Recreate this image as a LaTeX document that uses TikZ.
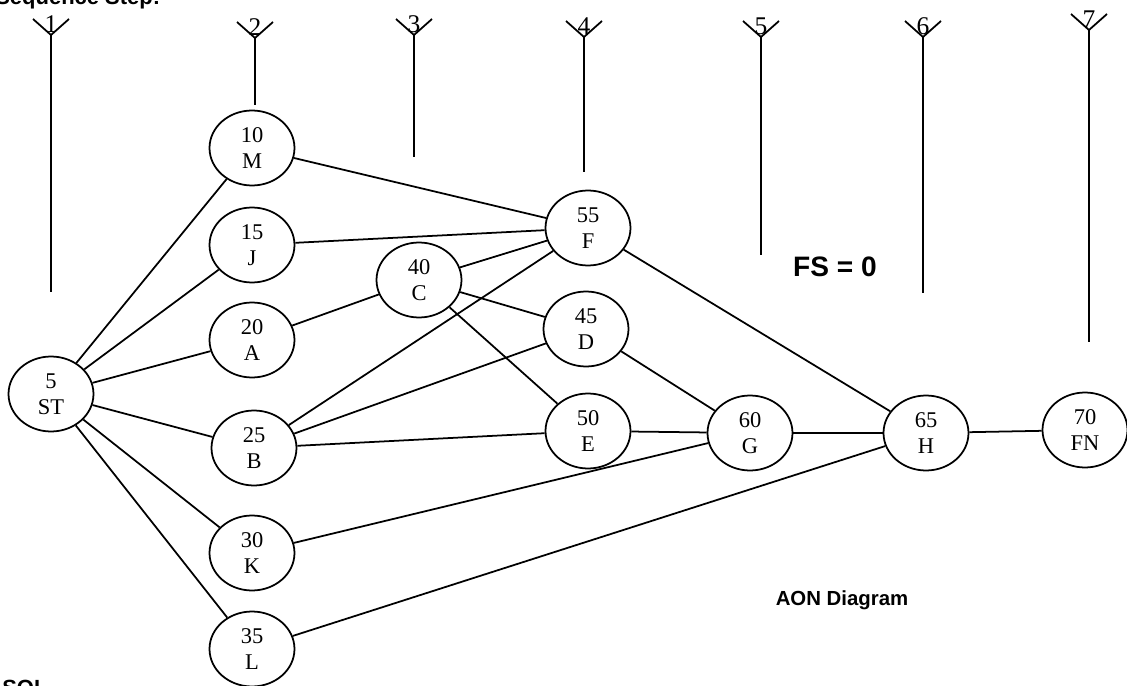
\documentclass[tikz,border=0pt]{standalone}
\usepackage{fontspec}
\setmainfont{Liberation Serif}
\setsansfont{Liberation Sans}
\usetikzlibrary{shapes.geometric,positioning}

\begin{document}
\begin{tikzpicture}[
  x=0.02cm, y=-0.02cm,
  act/.style={draw, ellipse, line width=1pt, minimum width=1.7cm,
              minimum height=1.5cm, inner sep=0pt, align=center,
              font=\fontsize{12.8}{14.6}\selectfont},
  link/.style={line width=1pt},
  stepline/.style={line width=1pt},
  note/.style={inner sep=0pt, font=\sffamily\bfseries\fontsize{11.6}{14}\selectfont}
]
\useasboundingbox (0,0) rectangle (1127,686);
\clip (0,0) rectangle (1127,686);
% sequence steps
\foreach \n/\x/\y/\b in {1/51/35/292, 2/255/38/105, 3/414/35/157, 4/584/37/172,
                         5/761/37/255, 6/923/37/293, 7/1089/30/342} {
  \draw[stepline] (\x-18,\y-16) -- (\x,\y) -- (\x+18,\y-16);
  \draw[stepline] (\x,\y) -- (\x,\b);
  \node[anchor=south, inner sep=0pt, font=\fontsize{14.5}{17}\selectfont] (s\n) at (\x,\y-2) {\n};
}
% activities
\node[act] (st) at (51,394) {5\\ST};
\node[act] (m) at (252,148) {10\\M};
\node[act] (j) at (252,245) {15\\J};
\node[act] (a) at (252,340) {20\\A};
\node[act] (b) at (254,448) {25\\B};
\node[act] (k) at (252,553) {30\\K};
\node[act] (l) at (252,649) {35\\L};
\node[act] (c) at (419,280) {40\\C};
\node[act] (d) at (586,329) {45\\D};
\node[act] (e) at (588,431) {50\\E};
\node[act] (f) at (588,228) {55\\F};
\node[act] (g) at (750,433) {60\\G};
\node[act] (h) at (926,433) {65\\H};
\node[act] (fn) at (1085,430) {70\\FN};
% precedence links
\foreach \u/\v in {st/m, st/j, st/a, st/b, st/k, st/l, m/f, j/f, a/c, c/f, c/d, c/e,
                   b/f, b/d, b/e, d/g, e/g, k/g, f/h, g/h, l/h, h/fn}
  \draw[link] (\u) -- (\v);
% notes
\node[note, font=\sffamily\bfseries\fontsize{16}{18}\selectfont] (fs) at (835,267) {FS = 0};
\node[note] (aon) at (842,600) {AON Diagram};
\node[note, font=\sffamily\bfseries\fontsize{12.5}{14}\selectfont, anchor=base west] (seq) at (-5,5) {Sequence Step:};
\node[note, font=\sffamily\bfseries\fontsize{12.5}{14}\selectfont, anchor=north west] (sol) at (2,680) {SOL};
\end{tikzpicture}
\end{document}
